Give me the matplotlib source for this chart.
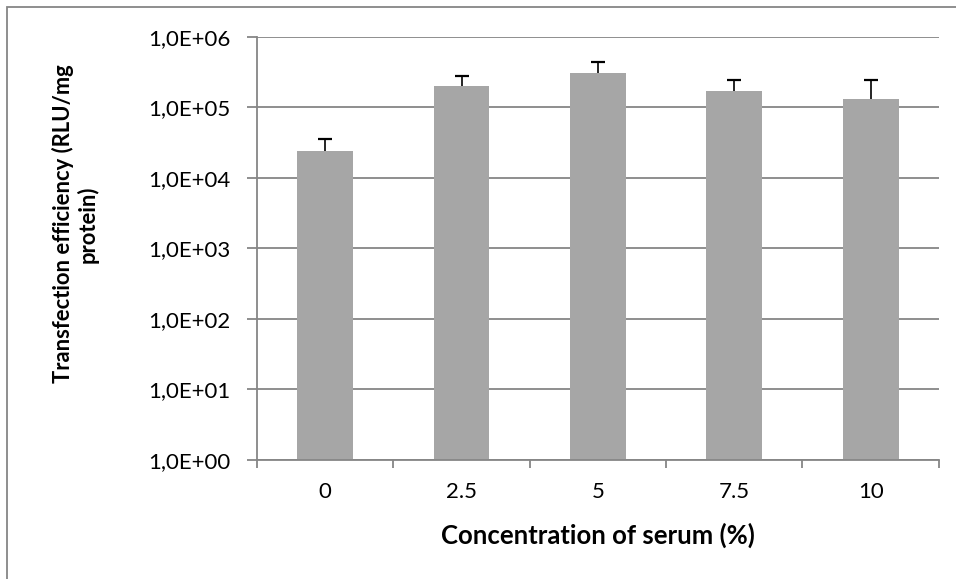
import numpy as np
import matplotlib.pyplot as plt
from matplotlib.patches import Rectangle
from matplotlib.ticker import FixedLocator, NullLocator

plt.rcParams['font.family'] = ['Lato', 'DejaVu Sans']

# serum concentration (%) and transfection efficiency (RLU/mg protein)
serum = ['0', '2.5', '5', '7.5', '10']
efficiency = [2.42e4, 1.98e5, 3.05e5, 1.68e5, 1.29e5]
error_up = [1.1e4, 7.9e4, 1.3e5, 7.5e4, 1.16e5]
ytick_vals = [1e0, 1e1, 1e2, 1e3, 1e4, 1e5, 1e6]
ytick_labels = ['1,0E+00', '1,0E+01', '1,0E+02', '1,0E+03', '1,0E+04', '1,0E+05', '1,0E+06']

grey = '#868686'
fs = 16

fig = plt.figure(figsize=(9.56, 5.79), dpi=100)
ax = fig.add_axes([0.2688, 0.206, 0.982 - 0.2688, 0.9366 - 0.206])

x = np.arange(len(serum))
ax.bar(x, efficiency, width=0.41, color='#A6A6A6', zorder=2)
eb = ax.errorbar(x, efficiency, yerr=[np.zeros(len(x)), error_up], fmt='none',
                 ecolor='black', elinewidth=1.2, capsize=5, capthick=1.6, zorder=3)
# only the upper whisker gets a cap
for cap in eb[1]:
    if np.allclose(cap.get_ydata(), efficiency):
        cap.set_visible(False)

ax.set_yscale('log')
ax.set_ylim(1, 1e6)
ax.set_xlim(-0.5, len(serum) - 0.5)
ax.yaxis.set_major_locator(FixedLocator(ytick_vals))
ax.yaxis.set_minor_locator(NullLocator())
ax.set_yticklabels(ytick_labels)
ax.grid(axis='y', color=grey, linewidth=1.3, zorder=0)

# category ticks sit between the bars, labels under the bar centres
ax.set_xticks(x)
ax.set_xticklabels(serum)
ax.tick_params(axis='x', length=0, pad=16, labelsize=fs)
ax.set_xticks(np.arange(len(serum) + 1) - 0.5, minor=True)
ax.tick_params(axis='x', which='minor', length=6, width=1.3, color=grey, direction='out')
ax.tick_params(axis='y', length=7, width=1.3, color=grey, labelsize=fs, pad=12)

for side in ['top', 'right']:
    ax.spines[side].set_visible(False)
for side in ['left', 'bottom']:
    ax.spines[side].set_color(grey)
    ax.spines[side].set_linewidth(1.3)

ax.set_xlabel('Concentration of serum (%)', fontsize=18.5, fontweight='bold', labelpad=15)
ax.set_ylabel('Transfection efficiency (RLU/mg\nprotein)', fontsize=15.8,
              fontweight='bold', linespacing=1.15)
ax.yaxis.set_label_coords(-0.232, 0.557)

# outer chart border
fig.patches.append(Rectangle((7 / 956, -0.1), 1.2, 1 - 7 / 579 + 0.1,
                             transform=fig.transFigure, fill=False,
                             edgecolor=grey, linewidth=1.3))

fig.savefig('out.png', dpi=100)
